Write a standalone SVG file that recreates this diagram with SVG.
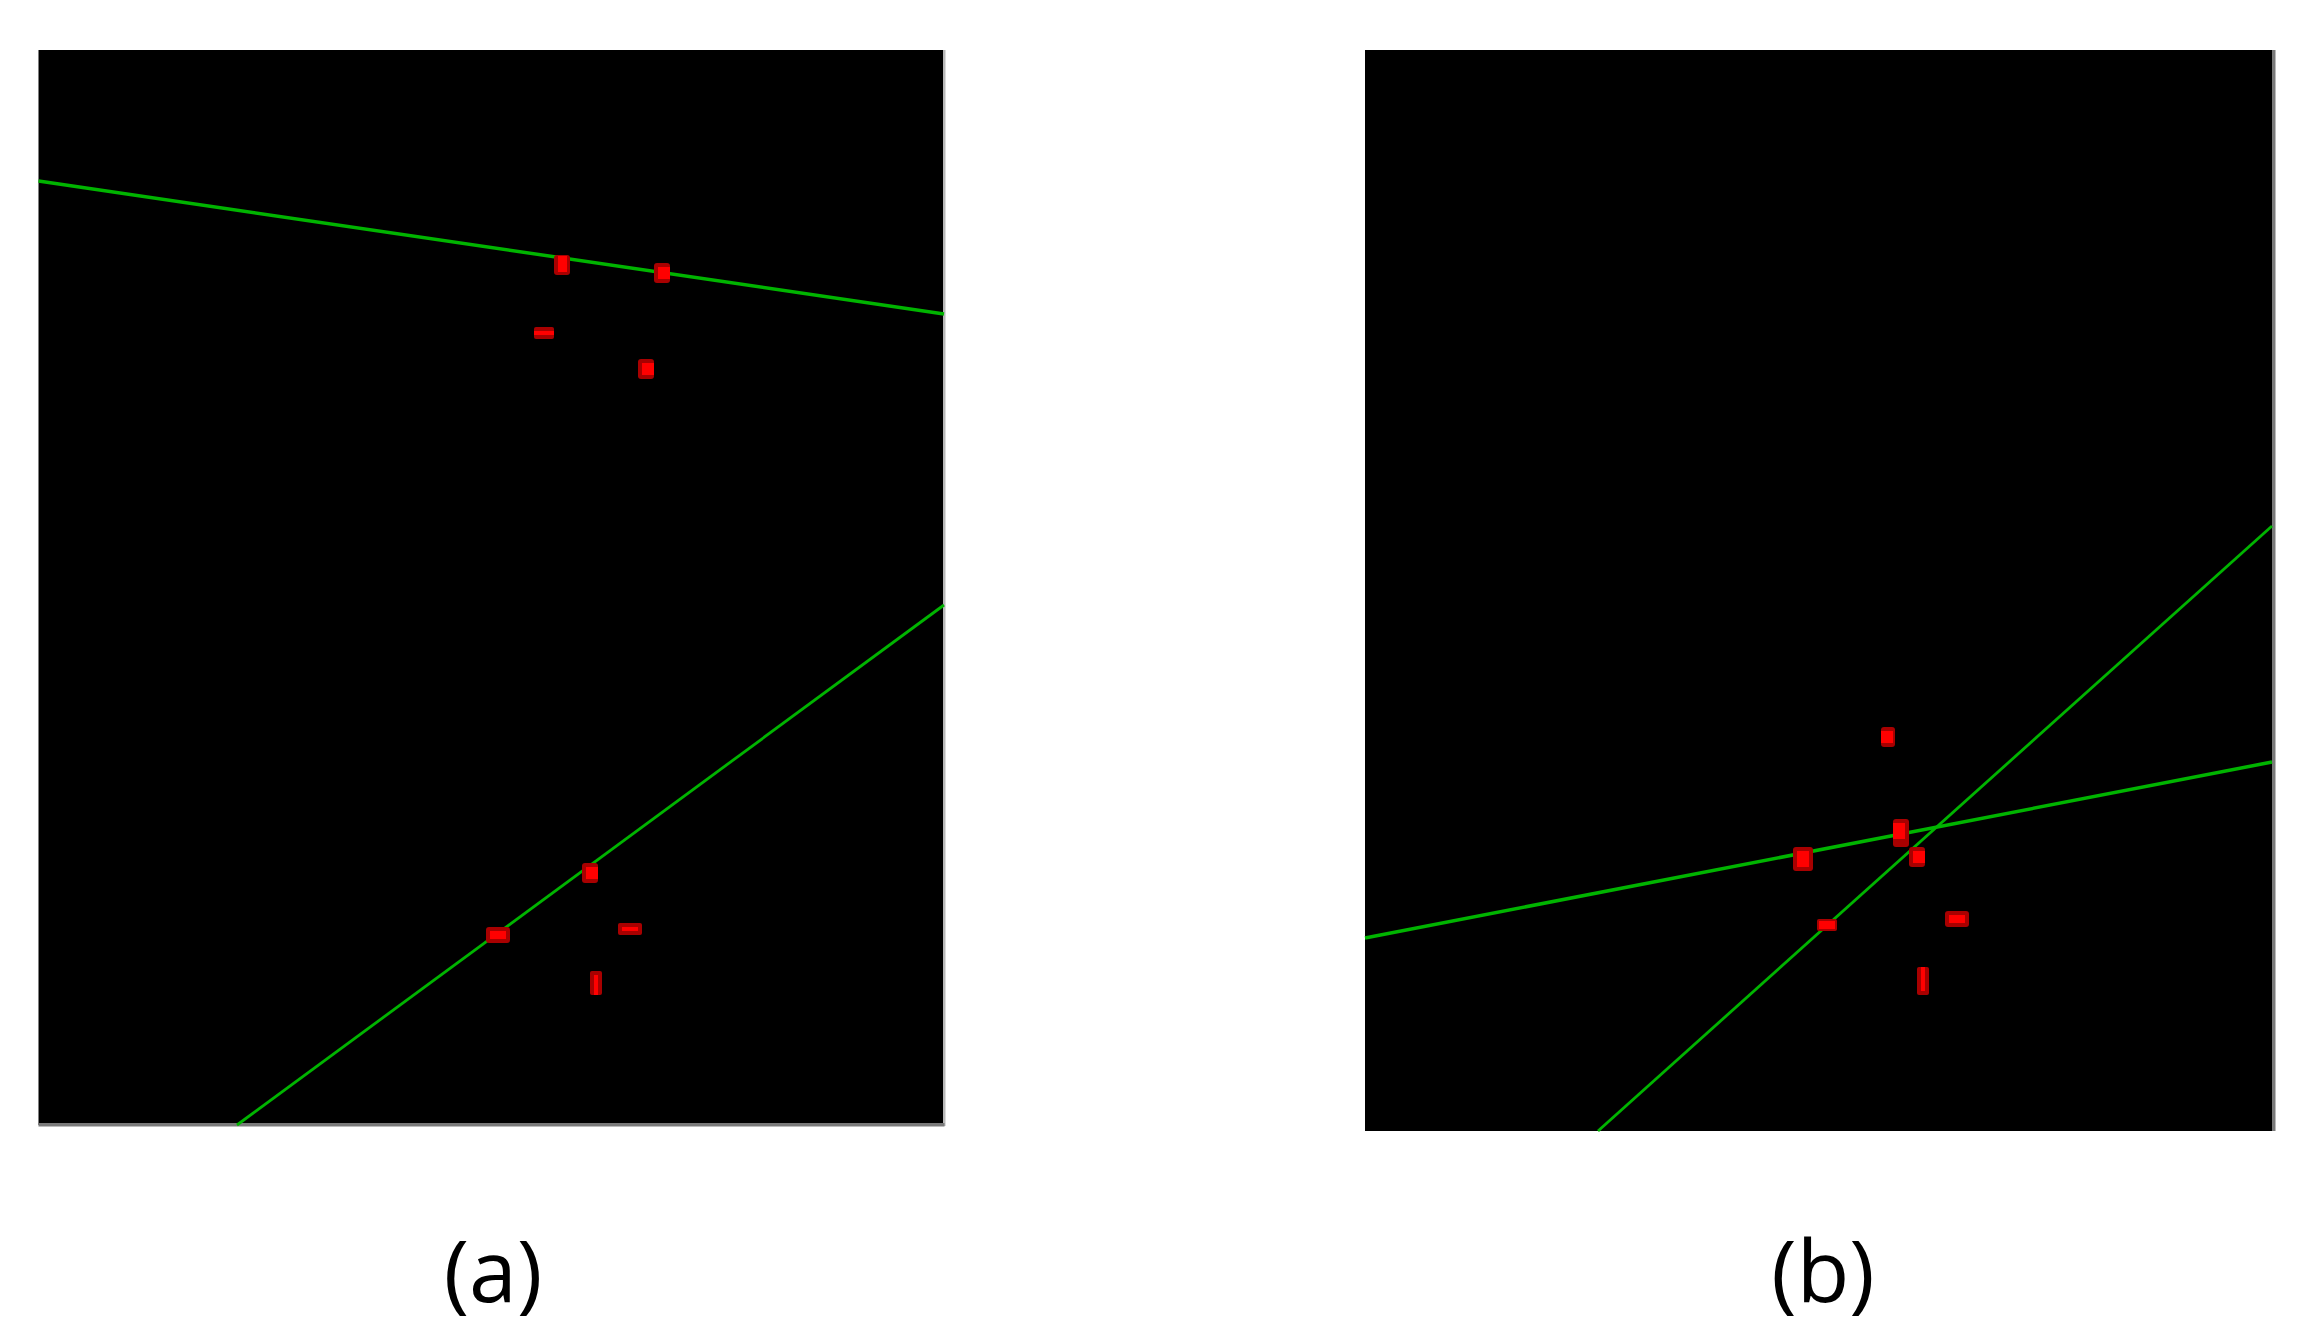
<svg xmlns="http://www.w3.org/2000/svg" width="2324" height="1340" viewBox="0 0 2324 1340">
<style>
.bg{fill:#000}
.ln{stroke:#00b400;stroke-width:3.5;fill:none}
.st{stroke-width:2.8}
.o{fill:#a80000}
.c{fill:#ff0000}
.lbl{font-family:"Open Sans","DejaVu Sans",sans-serif;font-size:86px;fill:#000;text-anchor:middle}
</style>
<rect width="2324" height="1340" fill="#fff"/>
<g id="panel-a">
<rect class="bg" x="38.5" y="50" width="905.5" height="1075"/>
<rect x="943" y="50" width="2.5" height="1076" fill="#b8b8b8"/>
<rect x="38.5" y="1123" width="906" height="3.5" fill="#7a7a7a"/>
</g>
<g id="panel-b">
<rect class="bg" x="1365" y="50" width="907" height="1081"/>
<rect x="2272" y="50" width="3.5" height="1081" fill="#7a7a7a"/>
</g>
<g id="lines">
<line class="ln" x1="38.5" y1="181" x2="944" y2="314"/>
<line class="ln st" x1="237" y1="1125" x2="944" y2="605"/>
<line class="ln" x1="1365" y1="938" x2="2272" y2="762"/>
<line class="ln st" x1="1598" y1="1131" x2="2272" y2="526"/>
</g>
<g id="points-a">
<rect class="o" x="554" y="255" width="16" height="20" rx="3"/><rect class="c" x="558" y="256" width="9" height="16"/>
<rect class="o" x="654" y="263" width="16" height="20" rx="3"/><rect class="c" x="658" y="267" width="12" height="12"/>
<rect class="o" x="534" y="327" width="20" height="12" rx="2"/><rect class="c" x="534" y="331" width="20" height="4"/>
<rect class="o" x="638" y="359" width="16" height="20" rx="3"/><rect class="c" x="642" y="363" width="12" height="12"/>
<rect class="o" x="582" y="863" width="16" height="20" rx="3"/><rect class="c" x="586" y="867" width="12" height="12"/>
<rect class="o" x="486" y="927" width="24" height="16" rx="3"/><rect class="c" x="490" y="931" width="16" height="8"/>
<rect class="o" x="618" y="923" width="24" height="12" rx="2"/><rect class="c" x="622" y="927" width="16" height="4"/>
<rect class="o" x="590" y="971" width="12" height="24" rx="2"/><rect class="c" x="594" y="975" width="4" height="20"/>
</g>
<g id="points-b">
<rect class="o" x="1881" y="727" width="14" height="20" rx="3"/><rect class="c" x="1881" y="731" width="12" height="12"/>
<rect class="o" x="1893" y="819" width="16" height="28" rx="3"/><rect class="c" x="1893" y="823" width="12" height="16"/>
<rect class="o" x="1793" y="847" width="20" height="24" rx="3"/><rect class="c" x="1797" y="851" width="12" height="16"/>
<rect class="o" x="1909" y="847" width="16" height="20" rx="3"/><rect class="c" x="1913" y="851" width="12" height="12"/>
<rect class="o" x="1817" y="919" width="20" height="12" rx="2"/><rect class="c" x="1819" y="921" width="16" height="8"/>
<rect class="o" x="1945" y="911" width="24" height="16" rx="3"/><rect class="c" x="1949" y="915" width="16" height="8"/>
<rect class="o" x="1917" y="967" width="12" height="28" rx="2"/><rect class="c" x="1921" y="967" width="4" height="24"/>
</g>
<g id="labels">
<text class="lbl" x="493" y="1302">(a)</text>
<text class="lbl" x="1823" y="1302">(b)</text>
</g>
</svg>
